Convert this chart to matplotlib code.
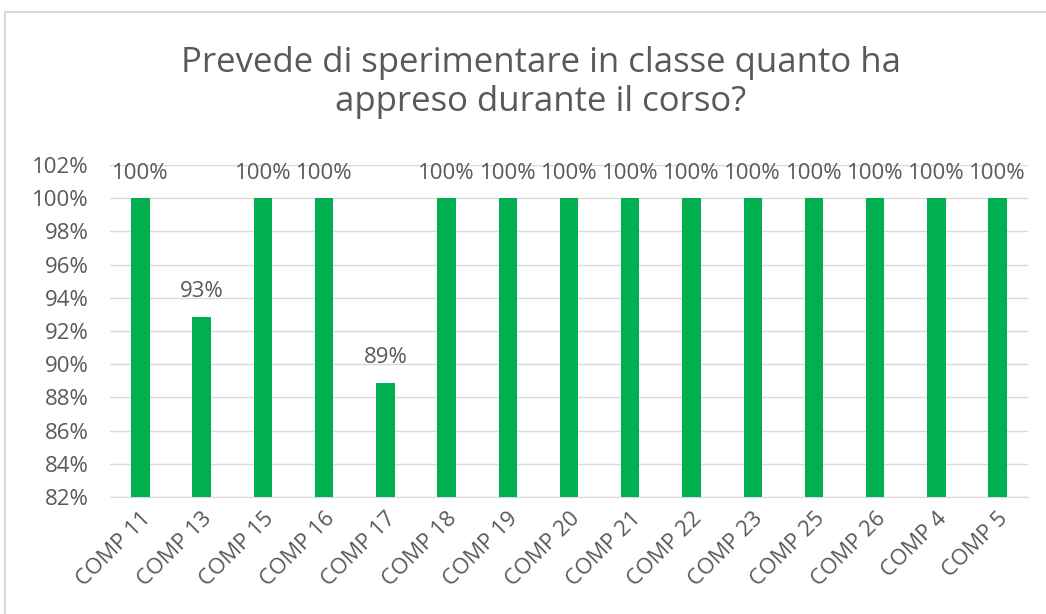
import matplotlib
matplotlib.use("Agg")
import matplotlib.pyplot as plt
from matplotlib.patches import Rectangle
from matplotlib.ticker import FuncFormatter, MultipleLocator

categories = ["COMP 11", "COMP 13", "COMP 15", "COMP 16", "COMP 17", "COMP 18",
              "COMP 19", "COMP 20", "COMP 21", "COMP 22", "COMP 23", "COMP 25",
              "COMP 26", "COMP 4", "COMP 5"]
values = [1.0, 0.9286, 1.0, 1.0, 0.8889, 1.0, 1.0, 1.0, 1.0, 1.0, 1.0, 1.0,
          1.0, 1.0, 1.0]
title = "Prevede di sperimentare in classe quanto ha\nappreso durante il corso?"

grey = "#595959"
green = "#00B050"
plt.rcParams['font.family'] = ['Open Sans', 'DejaVu Sans']

fig = plt.figure(figsize=(10.46, 6.14), dpi=100)
ax = fig.add_axes([0.105, 0.1906, 0.878, 0.5407])

x = list(range(len(categories)))
ax.bar(x, values, width=0.3, color=green, zorder=3)
for xi, v in zip(x, values):
    ax.annotate(f"{v:.0%}", (xi, v), xytext=(0, 25), textcoords="offset pixels",
                ha="center", va="center", fontsize=16, color=grey, zorder=4,
                annotation_clip=False)

ax.set_xlim(-0.5, len(categories) - 0.5)
ax.set_ylim(0.82, 1.02)
ax.yaxis.set_major_locator(MultipleLocator(0.02))
ax.yaxis.set_major_formatter(FuncFormatter(lambda v, p: f"{v:.0%}"))
ax.grid(axis="y", color="#D9D9D9", linewidth=1, zorder=0)
for s in ["top", "right", "left"]:
    ax.spines[s].set_visible(False)
ax.spines["bottom"].set_color("#D9D9D9")
ax.tick_params(axis="both", length=0, labelsize=16, labelcolor=grey)
ax.tick_params(axis="y", pad=15)
ax.set_xticks(x)
ax.set_xticklabels(categories, rotation=45, ha="right", rotation_mode="anchor")
ax.tick_params(axis="x", pad=8)

fig.text(0.517, 0.866, title, ha="center", va="center", fontsize=25,
         color=grey, linespacing=1.2)

fig.patches.append(Rectangle((0.005, -0.01), 1.0, 0.99, transform=fig.transFigure,
                             fill=False, edgecolor="#D9D9D9", linewidth=1.5))

fig.savefig("out.png", dpi=100)
